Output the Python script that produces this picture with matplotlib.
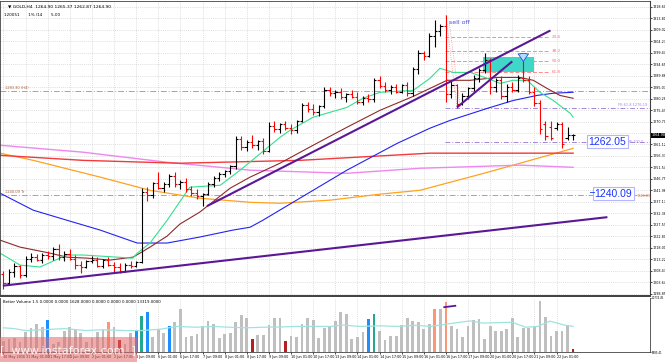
import matplotlib
matplotlib.use("Agg")
import matplotlib.pyplot as plt
import matplotlib.transforms as mtransforms
from matplotlib.patches import Rectangle
import numpy as np

# GOLD H4, 30 May - 22 Jun 2016 (bar index 0 = first bar on the chart)
opens = [1207.0, 1203.5, 1208.0, 1210.5, 1206.5, 1213.5, 1214.0, 1213.0, 1215.0, 1214.5,
         1217.5, 1214.0, 1215.5, 1213.5, 1211.0, 1210.0, 1212.5, 1213.0, 1210.5, 1213.0,
         1211.0, 1210.0, 1208.5, 1211.0, 1210.5, 1212.0, 1241.5, 1240.0, 1245.0, 1243.0,
         1244.5, 1248.0, 1244.5, 1245.5, 1242.5, 1241.0, 1239.5, 1240.5, 1244.5, 1247.0,
         1249.0, 1250.0, 1252.0, 1263.5, 1260.0, 1262.0, 1261.0, 1262.5, 1258.5, 1269.0,
         1267.5, 1269.5, 1268.0, 1267.0, 1271.0, 1277.5, 1276.0, 1274.5, 1277.0, 1284.0,
         1282.5, 1283.0, 1281.0, 1282.0, 1281.0, 1279.0, 1280.5, 1280.0, 1288.0, 1285.5,
         1284.0, 1285.0, 1283.0, 1286.0, 1282.5, 1292.5, 1299.5, 1298.0, 1306.5, 1308.5,
         1310.5, 1282.0, 1286.0, 1278.0, 1281.5, 1284.5, 1289.0, 1292.0, 1296.5, 1285.0,
         1288.0, 1281.5, 1285.0, 1284.0, 1289.0, 1288.0, 1283.0, 1278.5, 1269.5, 1268.5,
         1268.0, 1269.5, 1264.0, 1264.90]
highs = [1208.5, 1209.0, 1211.5, 1211.0, 1214.5, 1216.0, 1215.5, 1216.0, 1216.5, 1218.5,
         1219.5, 1216.5, 1217.5, 1215.0, 1212.5, 1213.0, 1214.5, 1214.0, 1213.5, 1214.0,
         1212.0, 1211.5, 1211.5, 1212.5, 1212.5, 1243.0, 1243.5, 1245.5, 1249.5, 1245.5,
         1249.0, 1249.5, 1246.5, 1247.0, 1244.0, 1242.5, 1241.0, 1245.5, 1248.0, 1249.5,
         1250.5, 1252.5, 1264.5, 1264.5, 1263.0, 1265.0, 1263.0, 1264.0, 1270.5, 1271.0,
         1270.0, 1271.0, 1269.5, 1271.5, 1278.5, 1279.0, 1278.0, 1277.5, 1285.0, 1285.0,
         1284.0, 1284.5, 1282.5, 1284.0, 1283.0, 1281.5, 1282.0, 1289.0, 1289.5, 1287.0,
         1286.0, 1286.5, 1286.5, 1287.0, 1293.5, 1300.5, 1300.0, 1307.5, 1313.0, 1311.5,
         1315.0, 1287.5, 1286.5, 1282.5, 1285.0, 1290.0, 1293.0, 1299.5, 1297.0, 1289.0,
         1289.5, 1286.5, 1287.0, 1290.0, 1296.0, 1289.5, 1285.0, 1279.5, 1271.0, 1271.0,
         1270.5, 1270.5, 1268.5, 1265.37]
lows = [1201.0, 1202.5, 1206.0, 1205.5, 1206.0, 1212.0, 1212.5, 1211.5, 1213.5, 1213.0,
        1213.0, 1212.5, 1213.0, 1209.0, 1207.5, 1209.5, 1211.5, 1210.0, 1209.5, 1210.5,
        1208.0, 1207.5, 1208.0, 1209.5, 1210.0, 1211.5, 1237.5, 1239.0, 1242.5, 1241.5,
        1243.5, 1243.5, 1242.5, 1241.5, 1239.5, 1238.5, 1235.5, 1240.0, 1243.5, 1246.0,
        1247.5, 1249.0, 1251.0, 1259.0, 1258.5, 1259.5, 1259.0, 1257.0, 1258.0, 1266.5,
        1266.0, 1267.0, 1265.5, 1266.0, 1270.5, 1274.5, 1273.5, 1273.0, 1276.5, 1281.5,
        1280.5, 1280.0, 1279.0, 1280.5, 1278.0, 1277.5, 1279.0, 1279.0, 1284.5, 1283.0,
        1282.0, 1282.5, 1282.5, 1281.5, 1281.5, 1290.5, 1296.5, 1297.5, 1302.0, 1306.5,
        1279.0, 1280.5, 1276.5, 1277.5, 1280.0, 1283.5, 1287.0, 1291.0, 1282.0, 1283.0,
        1280.0, 1279.0, 1283.0, 1283.0, 1287.0, 1282.0, 1277.0, 1265.5, 1263.0, 1263.0,
        1267.0, 1259.5, 1263.0, 1262.87]
closes = [1203.5, 1208.0, 1210.5, 1206.5, 1213.5, 1214.0, 1213.0, 1215.0, 1214.5, 1217.5,
          1214.0, 1215.5, 1213.5, 1211.0, 1210.0, 1212.5, 1213.0, 1210.5, 1213.0, 1211.0,
          1210.0, 1208.5, 1211.0, 1210.5, 1212.0, 1241.5, 1240.0, 1245.0, 1243.0, 1244.5,
          1248.0, 1244.5, 1245.5, 1242.5, 1241.0, 1239.5, 1240.5, 1244.5, 1247.0, 1249.0,
          1250.0, 1252.0, 1263.5, 1260.0, 1262.0, 1261.0, 1262.5, 1258.5, 1269.0, 1267.5,
          1269.5, 1268.0, 1267.0, 1271.0, 1277.5, 1276.0, 1274.5, 1277.0, 1284.0, 1282.5,
          1283.0, 1281.0, 1282.0, 1281.0, 1279.0, 1280.5, 1280.0, 1288.0, 1285.5, 1284.0,
          1285.0, 1283.0, 1286.0, 1282.5, 1292.5, 1299.5, 1298.0, 1306.5, 1308.5, 1310.5,
          1282.0, 1286.0, 1278.0, 1281.5, 1284.5, 1289.0, 1292.0, 1296.5, 1285.0, 1288.0,
          1281.5, 1285.0, 1284.0, 1289.0, 1288.0, 1283.0, 1278.5, 1267.5, 1264.5, 1264.0,
          1269.5, 1261.5, 1265.0, 1264.90]

volumes = [9800, 10400, 10500, 9500, 12070, 13110, 14150, 13390, 14990, 9000,
           9500, 12410, 13320, 12900, 11740, 9500, 10500, 12070, 12620, 14640,
           13320, 9980, 9000, 11720, 12210,
           16030, 17080, 10670, 12760, 11720, 13460, 14500, 17980, 10810, 11160,
           11510, 13460, 14850, 14150, 10540, 11510, 11720, 14500, 16380, 15550,
           10330, 11370, 11370, 13810, 15550, 15550, 9840, 11160, 10810, 13950,
           15690, 14990, 10540, 12970, 13320, 14850, 17010, 16590, 10330, 10810,
           11930, 15340, 16590, 12280, 10120, 11020, 11160, 13810, 15550, 14710,
           14640, 12760, 14150, 17770, 17980, 19510, 13460, 12900, 10810, 13460,
           15200, 15340, 10330, 13600, 12410, 12410, 12900, 15550, 10810, 13110,
           13110, 13460, 19930, 15890, 11020, 12210, 12210, 13810, 7680]
# Better Volume colour classes (others are plain grey)
vol_class = {8: "high", 19: "climax", 21: "low", 24: "high", 25: "churn", 26: "high",
             30: "high", 45: "low", 51: "low", 66: "high", 67: "churn", 78: "climax",
             80: "climax", 103: "low"}
vol_ma_x = [0, 2, 4, 7, 11, 15, 18, 22, 25, 28.4, 31.4, 34.8, 37.8, 40.9, 43.9, 47, 50.1,
            53.1, 56.2, 59.2, 61.4, 64.4, 68.4, 71.4, 74.4, 77.4, 80.6, 82.1, 84.4, 86.7,
            89.7, 92, 94.4, 96.6, 98.8, 101.4, 103]
vol_ma_y = [13110, 12900, 12410, 12620, 12900, 12410, 12620, 12410, 12410, 12760, 13460,
            13250, 13460, 13250, 13110, 13250, 13320, 13460, 13460, 13460, 13810, 13460,
            13600, 13460, 13740, 13460, 14150, 14430, 14850, 14290, 14430, 14500, 13250,
            13460, 14800, 13810, 13460]

# moving averages (bar index, price)
green_x = [-0.6, 3.0, 6.6, 11.5, 14.4, 23.4, 24.2, 26.5, 29.6, 33.7, 39.2, 42.8, 50.0, 51.8,
           56.0, 62.1, 65.0, 68.1, 74.1, 77.1, 78.9, 81.3, 84.4, 87.5, 89.8, 92.1, 94.7,
           97.0, 99.4, 102.5, 103.0]
green_y = [1215.8, 1210.8, 1210.0, 1215.0, 1215.0, 1213.7, 1215.8, 1220.0, 1229.5, 1243.3,
           1244.1, 1250.4, 1264.1, 1267.0, 1272.5, 1276.6, 1280.4, 1282.9, 1283.7, 1288.7,
           1292.9, 1291.2, 1291.2, 1288.7, 1286.6, 1287.9, 1287.9, 1282.9, 1279.5, 1274.1,
           1272.5]
brown_x = [-0.6, 3.0, 8.4, 11.5, 15.1, 19.3, 23.4, 24.7, 26.5, 29.6, 31.9, 35.5, 41.0, 44.6,
           50.0, 56.0, 62.1, 68.1, 74.1, 77.1, 80.2, 84.4, 89.3, 93.4, 95.8, 98.3, 100.6,
           103.0]
brown_y = [1221.2, 1218.3, 1215.8, 1214.1, 1213.7, 1212.9, 1214.1, 1215.8, 1218.3, 1222.9,
           1227.9, 1232.9, 1242.9, 1247.5, 1253.3, 1260.8, 1268.3, 1275.4, 1281.2, 1284.5,
           1287.9, 1287.9, 1289.1, 1289.1, 1287.9, 1284.5, 1281.6, 1280.4]
blue_x = [-0.6, 5.4, 11.5, 17.5, 24.2, 29.6, 35.5, 41.5, 44.6, 46.9, 62.1, 71.2, 77.1, 80.8,
          87.5, 92.2, 96.5, 99.4, 103.0]
blue_y = [1240.8, 1233.7, 1229.5, 1225.4, 1220.0, 1220.0, 1222.5, 1225.4, 1226.6, 1229.5,
          1250.4, 1261.6, 1267.9, 1271.2, 1276.2, 1279.5, 1281.6, 1282.5, 1282.9]
red_x = [-0.6, 14.4, 31.9, 53.6, 77.1, 103.0]
red_y = [1256.6, 1254.5, 1253.3, 1254.5, 1257.5, 1257.5]
violet_x = [-0.6, 14.4, 29.6, 44.6, 62.1, 75.3, 93.4, 103.0]
violet_y = [1260.8, 1257.9, 1253.7, 1250.4, 1249.1, 1251.2, 1252.5, 1251.6]
orange_x = [-0.6, 5.4, 17.5, 26.5, 35.5, 44.6, 50.0, 59.1, 68.1, 75.3, 87.5, 103.0]
orange_y = [1257.5, 1254.5, 1247.5, 1242.0, 1238.7, 1237.0, 1236.6, 1237.9, 1240.4, 1242.0,
            1249.5, 1259.5]

# hand-drawn objects
trend_lines = [((36.8, 1235.4), (98.9, 1308.7)),
               ((82.0, 1276.6), (92.0, 1295.8)),
               ((-0.1, 1202.2), (109.2, 1230.8))]
fib_levels = [1306.0, 1300.3, 1295.8, 1291.2]
fib_names = ["23.6", "38.2", "50.0", "61.8"]
level_a, level_b = 1283.3, 1240.09
fe_levels = [1276.2, 1262.05]
sell_high, sell_low = (80, 1315.0), (82, 1276.6)
zone = (86.7, 95.9, 1291.2, 1297.5)
last_price = 1264.90

dates = ["30 May 2016", "31 May 01:00", "31 May 17:00", "1 Jun 09:00", "2 Jun 01:00",
         "2 Jun 17:00", "3 Jun 09:00", "6 Jun 01:00", "6 Jun 17:00", "7 Jun 09:00",
         "8 Jun 01:00", "8 Jun 17:00", "9 Jun 09:00", "10 Jun 01:00", "10 Jun 17:00",
         "13 Jun 09:00", "14 Jun 01:00", "14 Jun 17:00", "15 Jun 09:00", "16 Jun 01:00",
         "16 Jun 17:00", "17 Jun 09:00", "20 Jun 01:00", "20 Jun 17:00", "21 Jun 09:00",
         "22 Jun 01:00"]

W, H = 665, 362
fig = plt.figure(figsize=(W / 100, H / 100), dpi=100)


def px_box(l, t, r, b):
    return [l / W, 1 - b / H, (r - l) / W, (b - t) / H]


ax = fig.add_axes(px_box(0, 0.5, 650, 296))
axv = fig.add_axes(px_box(0, 297.5, 650, 352), sharex=ax)

idx = np.arange(len(closes))
o, h, l, c = map(np.array, (opens, highs, lows, closes))
bar_col = np.where(c >= o, "black", "red")

# moving averages
ax.plot(orange_x, orange_y, color="#ffa21e", lw=0.9, zorder=2)
ax.plot(violet_x, violet_y, color="#ee88ee", lw=1.0, zorder=2)
ax.plot(red_x, red_y, color="#f23a3a", lw=1.0, zorder=2)
ax.plot(blue_x, blue_y, color="#2323f0", lw=0.8, zorder=2)
ax.plot(brown_x, brown_y, color="#8e2a2a", lw=0.8, zorder=2)
ax.plot(green_x, green_y, color="#33e08f", lw=0.8, zorder=2)

# horizontal levels
ax.axhline(level_a, color="#e8905a", lw=0.7, ls=(0, (6, 2, 1, 2)), zorder=1)
ax.axhline(level_b, color="#e8905a", lw=0.7, ls=(0, (6, 2, 1, 2)), zorder=1)
for lv in fe_levels:
    ax.plot([79.9, 117], [lv, lv], color="#a585d8", lw=0.7, ls=(0, (5, 2, 1, 2)), zorder=1)
for lv, nm in zip(fib_levels, fib_names):
    ax.plot([79.9, 98.9], [lv, lv], color="#ff8a8a", lw=0.7, ls=(0, (4, 2)), zorder=1)
    ax.text(99.2, lv, nm, color="#ff6a6a", fontsize=3, va="center")
ax.plot([sell_high[0], sell_low[0]], [sell_high[1], sell_low[1]], color="#ff8a8a",
        lw=0.6, ls=":", zorder=1)
ax.plot([sell_high[0] + 0.6, sell_low[0] + 0.6], [sell_high[1] - 3, sell_low[1]],
        color="#ff8a8a", lw=0.6, ls=":", zorder=1)

# supply zone
ax.add_patch(Rectangle((zone[0], zone[2]), zone[1] - zone[0], zone[3] - zone[2],
                       facecolor="#3fd8c8", edgecolor="none", zorder=1.5))

# OHLC bars
ax.vlines(idx, l, h, colors=bar_col, lw=0.8, zorder=4)
ax.hlines(o, idx - 0.42, idx, colors=bar_col, lw=0.8, zorder=4)
ax.hlines(c, idx, idx + 0.42, colors=bar_col, lw=0.8, zorder=4)

# trend lines
for (x0, y0), (x1, y1) in trend_lines:
    ax.plot([x0, x1], [y0, y1], color="#5b1896", lw=1.5, zorder=5, solid_capstyle="butt")

ax.annotate("", xy=(94, 1294.6), xytext=(94, 1300.2),
            arrowprops=dict(arrowstyle="simple,head_width=0.75,head_length=0.55,tail_width=0.38",
                            fc="#b8dcff", ec="#1c4de0", lw=0.6), zorder=6)
ax.text(80.5, 1312.2, "sell off", color="#4b4bd8", fontsize=4.5, va="center")

# price boxes
box_kw = dict(facecolor="white", edgecolor="#b4b4ff", lw=0.8, pad=1.2)
ax.text(109.2, 1262.3, "1262.05", color="#1a33ff", fontsize=7.5, ha="center", va="center",
        family="Liberation Sans", bbox=box_kw, zorder=7)
ax.text(110.3, 1240.6, "1240.09", color="#1a33ff", fontsize=7.5, ha="center", va="center",
        family="Liberation Sans", bbox=box_kw, zorder=7)
ax.plot([106.0, 106.8], [1241.3, 1241.3], color="#1a33ff", lw=0.6, zorder=7)
ax.text(113.1, 1262.3, "FE:100.0", color="#a585d8", fontsize=2.4, va="center")
ax.text(114.4, 1239.6, "1240.09", color="#c87850", fontsize=2.4, va="center")
ax.text(111.2, 1277.6, "FE:61.8 1276.19", color="#a585d8", fontsize=2.6, va="center")
ax.text(0.2, 1284.5, "1283.30 (H4)", color="#a06040", fontsize=2.6, va="center")
ax.text(0.2, 1241.3, "1240.09 Tr", color="#a06040", fontsize=2.6, va="center")

# header
ax.text(0.012, 0.985, "\u25bc GOLD,H4  1264.90 1265.37 1262.87 1264.90", transform=ax.transAxes,
        fontsize=3.2, va="top")
ax.text(0.006, 0.958, "120051       1% /14       5.00", transform=ax.transAxes,
        fontsize=3.0, va="top")

# axes styling
tick_pos = np.arange(0, len(closes), 4)
ax.set_xlim(-0.615, 116.9)
ax.set_ylim(1197.9, 1321.2)
yt = 1318.60 - 4.79 * np.arange(26)
ax.set_yticks(yt)
# the tick next to the live-price marker is hidden behind it
ax.set_yticklabels(["" if abs(v - last_price) < 2.5 else f"{v:.2f}" for v in yt])
ax.yaxis.tick_right()
ax.tick_params(axis="y", labelsize=2.4, length=1.2, pad=0.5, width=0.5)
ax.tick_params(axis="x", length=0, labelbottom=False)
ax.set_xticks(tick_pos)
ax.grid(True, color="#d4d4d4", lw=0.5, ls=(0, (1.5, 1.5)))
ax.set_axisbelow(True)
for s in ax.spines.values():
    s.set_color("#404040")
    s.set_linewidth(0.6)
ax.spines["bottom"].set_linewidth(1.4)
ax.spines["right"].set_linewidth(0.8)

trans = mtransforms.blended_transform_factory(ax.transAxes, ax.transData)
ax.text(1.003, last_price, f"{last_price:.2f}", transform=trans, color="white", fontsize=2.4,
        va="center", bbox=dict(facecolor="black", edgecolor="none", pad=0.6), clip_on=False,
        zorder=8)

# volume panel
vcolors = {"high": "#1e8fff", "churn": "#22a88c", "climax": "#fa9775", "low": "#b51f1f"}
vcol = [vcolors.get(vol_class.get(i), "#bfbfbf") for i in idx]
axv.bar(idx, volumes, width=0.5, color=vcol, zorder=2)
axv.plot(vol_ma_x, vol_ma_y, color="#9fe3df", lw=0.9, zorder=3)
axv.plot([79.7, 81.7], [18330, 18680], color="#5b1896", lw=1.3, zorder=4)
axv.set_ylim(6985.41, 20774.45)
axv.set_yticks([6985.41, 20774.45])
axv.set_yticklabels(["6985.41", "20774.45"])
for lab, va in zip(axv.get_yticklabels(), ["bottom", "top"]):
    lab.set_va(va)
axv.yaxis.tick_right()
axv.tick_params(axis="y", labelsize=1.9, length=1.0, pad=0.4, width=0.5)
axv.set_xticks(tick_pos)
axv.set_xticklabels(dates, ha="left")
axv.tick_params(axis="x", labelsize=2.4, length=1.5, pad=1, width=0.5)
axv.grid(True, axis="x", color="#d4d4d4", lw=0.5, ls=(0, (1.5, 1.5)))
axv.set_axisbelow(True)
for s in axv.spines.values():
    s.set_color("#404040")
    s.set_linewidth(0.6)
axv.spines["top"].set_visible(False)
axv.text(0.004, 0.95, "Better Volume 1.5 0.0000 0.0000 1628.0000 0.0000 0.0000 0.0000 13319.0000",
         transform=axv.transAxes, fontsize=2.8, va="top")

# instaforex watermark
fig.patches.append(Rectangle((0, 0), 137 / W, 25 / H, transform=fig.transFigure,
                             facecolor="#e26a6a", alpha=0.55, edgecolor="none", zorder=10))
fig.text(68 / W, 1 - 350 / H, "[  www.instaforex.com  ]", color="white", fontsize=8,
         ha="center", va="center", alpha=0.9, zorder=11)

fig.savefig("out.png", dpi=100)
